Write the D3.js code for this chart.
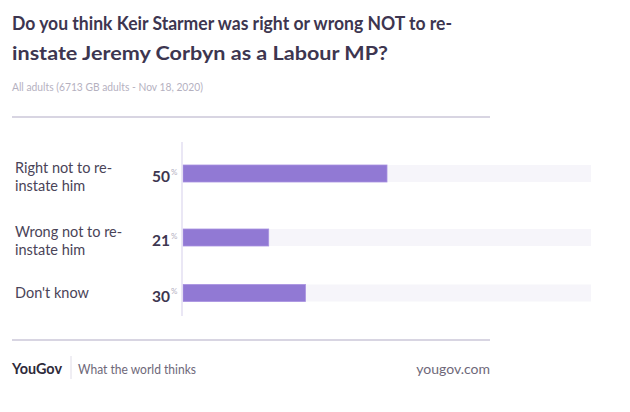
<!DOCTYPE html>
<html><head><meta charset="utf-8">
<script src="https://cdn.jsdelivr.net/npm/d3@7"></script>
<style>
html,body{margin:0;padding:0;background:#fff;}
svg{display:block;font-family:Lato,sans-serif;}
</style></head>
<body><svg id="c" width="630" height="412"></svg>
<script>
const categories = ["Right not to re-instate him", "Wrong not to re-instate him", "Don't know"];
const categoryLines = [["Right not to re-", "instate him"], ["Wrong not to re-", "instate him"], ["Don't know"]];
const values = [50, 21, 30];
const titleLines = ["Do you think Keir Starmer was right or wrong NOT to re-", "instate Jeremy Corbyn as a Labour MP?"];
const subtitle = "All adults (6713 GB adults - Nov 18, 2020)";

const svg = d3.select("#c");
const x = d3.scaleLinear().domain([0, 100]).range([183, 591]);
const y = d3.scaleOrdinal().domain(categories).range([173.5, 237.5, 293]);
const barH = 17;
const titleWidths = [440, 376];

// title
svg.append("g").selectAll("text").data(titleLines).join("text")
  .attr("x", 12).attr("y", (d, i) => 30 + i * 30)
  .attr("font-size", 19).attr("font-weight", 700).attr("fill", "#3d3650")
  .attr("textLength", (d, i) => titleWidths[i]).attr("lengthAdjust", "spacingAndGlyphs")
  .text(d => d);
svg.append("text").attr("x", 12).attr("y", 91).attr("font-size", 11).attr("fill", "#b5b1bf")
  .attr("textLength", 191).attr("lengthAdjust", "spacingAndGlyphs").text(subtitle);

// separators
svg.append("line").attr("x1", 12).attr("x2", 490).attr("y1", 117).attr("y2", 117).attr("stroke", "#cbc7d9").attr("stroke-width", 1.5);
svg.append("line").attr("x1", 12).attr("x2", 490).attr("y1", 340).attr("y2", 340).attr("stroke", "#cbc7d9").attr("stroke-width", 1.5);

// tracks
svg.append("g").selectAll("rect").data(categories).join("rect")
  .attr("x", x(0)).attr("width", x(100) - x(0))
  .attr("y", d => y(d) - barH / 2).attr("height", barH).attr("fill", "#f6f5fa");
// bars
svg.append("g").selectAll("rect").data(values).join("rect")
  .attr("x", x(0)).attr("width", d => x(d) - x(0))
  .attr("y", (d, i) => y(categories[i]) - barH / 2).attr("height", barH)
  .attr("fill", "#9179d4").attr("stroke", "#a892e0").attr("stroke-width", 0.8);

// axis line
svg.append("line").attr("x1", 182).attr("x2", 182).attr("y1", 142).attr("y2", 316).attr("stroke", "#e3dff2").attr("stroke-width", 1.5);

// category labels
const lab = svg.append("g").selectAll("text").data(categories).join("text")
  .attr("font-size", 14.5).attr("fill", "#4a4458");
lab.each(function(d, i) {
  const lines = categoryLines[i];
  const cy = y(d) + (lines.length > 1 ? 3 : 0);
  d3.select(this).selectAll("tspan").data(lines).join("tspan")
    .attr("x", 15).attr("y", (l, j) => cy + (j - (lines.length - 1) / 2) * 18 + 5)
    .text(l => l);
});

// value labels
svg.append("g").selectAll("text").data(values).join("text")
  .attr("x", 170).attr("y", (d, i) => y(categories[i]) + 8.5)
  .attr("text-anchor", "end")
  .attr("font-size", 15.5).attr("font-weight", 700).attr("fill", "#3d3650")
  .text(d => d);
svg.append("g").selectAll("text").data(values).join("text")
  .attr("x", 171).attr("y", (d, i) => y(categories[i]) + 1)
  .attr("font-size", 8).attr("fill", "#b5b1bf")
  .text("%");

// footer
svg.append("text").attr("x", 12).attr("y", 373.5)
  .attr("font-size", 16).attr("font-weight", 700).attr("fill", "#2e2a3a")
  .attr("textLength", 50).attr("lengthAdjust", "spacingAndGlyphs").text("YouGov");
svg.append("line").attr("x1", 71).attr("x2", 71).attr("y1", 356).attr("y2", 379).attr("stroke", "#e0dde8").attr("stroke-width", 1);
svg.append("text").attr("x", 78).attr("y", 373.5)
  .attr("font-size", 14).attr("fill", "#6e6879")
  .attr("textLength", 118).attr("lengthAdjust", "spacingAndGlyphs").text("What the world thinks");
svg.append("text").attr("x", 490).attr("y", 373.5).attr("text-anchor", "end")
  .attr("font-size", 14).attr("fill", "#6e6879").text("yougov.com");
</script></body></html>
